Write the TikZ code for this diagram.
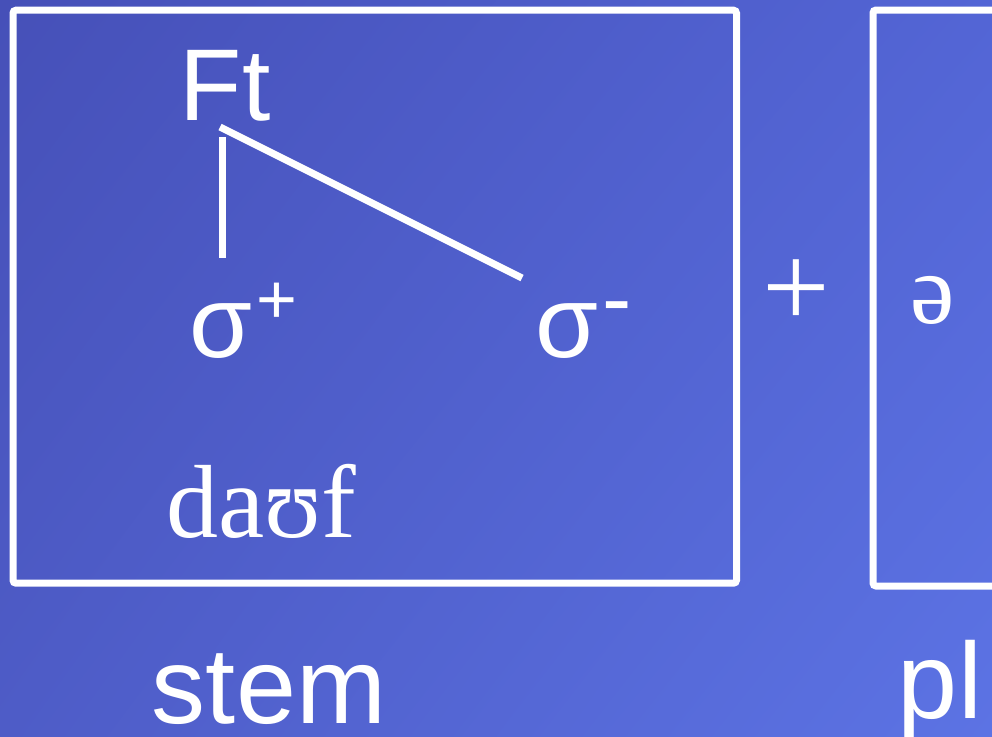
\documentclass[tikz,border=0pt]{standalone}
\usepackage{fontspec}
\setmainfont{Liberation Serif}
\newfontfamily\sansf{Liberation Sans}
\usetikzlibrary{positioning, shadings}
\definecolor{bgul}{HTML}{4650B8}
\definecolor{bgur}{HTML}{5365D5}
\definecolor{bgll}{HTML}{4E5CC7}
\definecolor{bglr}{HTML}{5C73E4}
% esponente rialzato
\newcommand{\raisedsup}[3]{\kern4pt\raisebox{#2}{\fontsize{#3}{#3}\selectfont #1}}
\tikzset{
  % riquadro bianco
  panel/.style={draw=white, line width=7pt, rounded corners=3pt, inner sep=0pt},
  % testo senza grazie
  sanslbl/.style={text=white, inner sep=0pt, anchor=base,
    font=\sansf\fontsize{102}{110}\selectfont},
  % testo con grazie
  seriflbl/.style={text=white, inner sep=0pt, anchor=base,
    font=\fontsize{104}{110}\selectfont},
  % ramo dell'albero
  branch/.style={draw=white, line width=7pt},
}
\begin{document}
\begin{tikzpicture}[x=1pt, y=-1pt]
  \useasboundingbox (0,0) rectangle (992,736);
  \clip (0,0) rectangle (992,736);
  \shade[upper left=bgul, upper right=bgur, lower left=bgll, lower right=bglr]
    (0,0) rectangle (992,736);
  % riquadri
  \node[panel, minimum width=723.5pt, minimum height=573pt] (stembox) at (374.75,296.7) {};
  \node[panel, minimum width=227pt, minimum height=576pt] (plbox) at (986.5,298) {};
  % albero del piede
  \node[sanslbl] (ft) at (225,120) {Ft};
  \node[sanslbl] (shead) at (243,357) {σ\raisedsup{+}{34pt}{70}};
  \node[sanslbl] (stail) at (584,357) {σ\raisedsup{-}{29pt}{88}};
  \coordinate (vtop) at (222,137);
  \coordinate (vbot) at (222,258);
  \coordinate (dtop) at (220,127);
  \coordinate (dbot) at (522,278);
  \draw[branch] (vtop) -- (vbot);
  \draw[branch] (dtop) -- (dbot);
  % segmenti
  \node[seriflbl] (seg) at (261,537) {daʊf};
  \node[seriflbl, anchor=center, font=\fontsize{120}{120}\selectfont] (plus) at (796.5,293.5) {+};
  \node[seriflbl, anchor=center, font=\fontsize{100}{100}\selectfont] (schwa) at (933,300.5) {ə};
  % etichette
  \node[sanslbl, font=\sansf\fontsize{108}{110}\selectfont] (stemlbl) at (269,723) {stem};
  \node[sanslbl, font=\sansf\fontsize{108}{110}\selectfont] (pllbl) at (940,718) {pl};
\end{tikzpicture}
\end{document}
